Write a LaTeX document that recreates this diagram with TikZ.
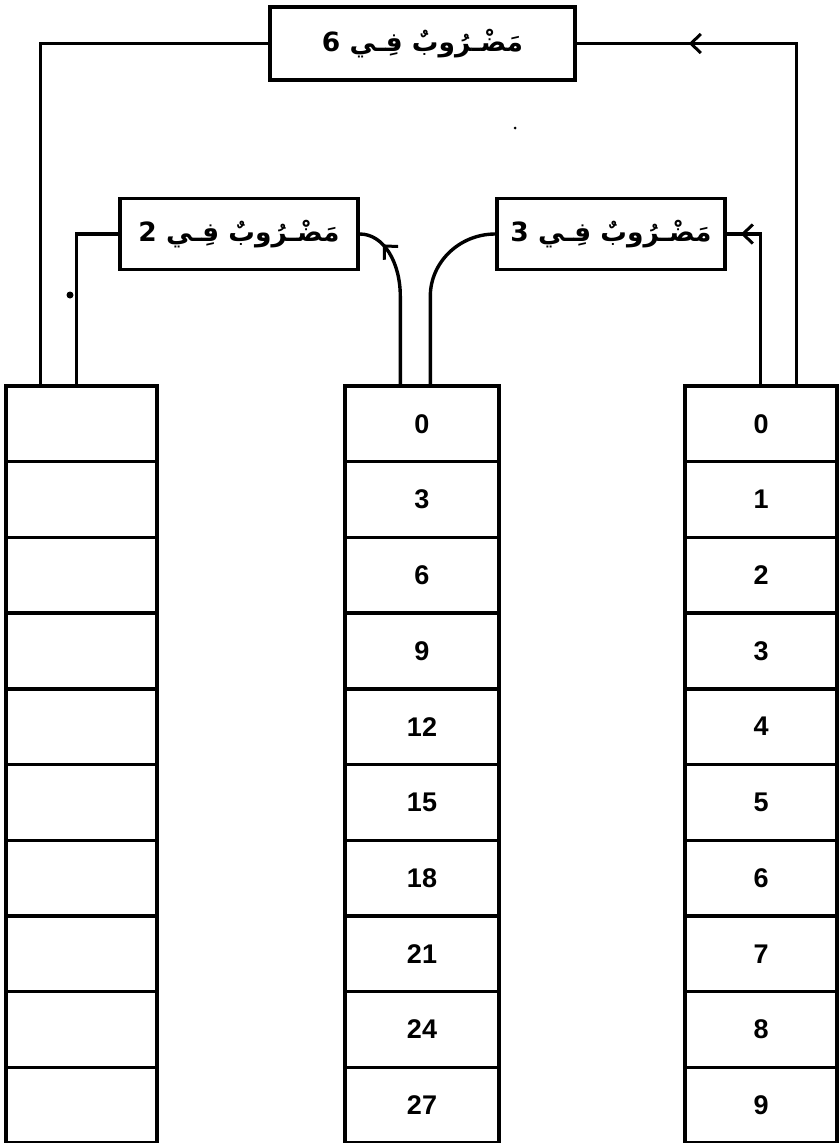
\documentclass[tikz,border=0pt]{standalone}
\usepackage{fontspec}
\setmainfont{Liberation Sans}
\newfontfamily\arabicfont[Script=Arabic]{DejaVu Sans}
\TeXXeTstate=1
\usetikzlibrary{arrows.meta,decorations.markings}
\begin{document}
\begin{tikzpicture}[x=1pt,y=-1pt,
  ln/.style={line width=3.4pt},
  cell/.style={draw,line width=3.4pt,minimum height=75.7pt,inner sep=0pt,font=\fontsize{27}{29}\selectfont\bfseries},
  opbox/.style={draw,line width=3.4pt,inner sep=0pt,font=\arabicfont\fontsize{26.5}{30}\selectfont\bfseries},
  midarrow/.style={postaction={decorate},decoration={markings,mark=at position #1 with {\arrow[line width=3pt]{Straight Barb[length=10pt,width=19pt]}}}}
]
\useasboundingbox (0,0) rectangle (839,1143);
% operation boxes
\node[opbox,minimum width=305pt,minimum height=73pt] (m6) at (422.5,43.5) {\beginR مَضْـرُوبٌ فِـي 6\endR};
\node[opbox,minimum width=238pt,minimum height=71pt] (m2) at (239,234) {\beginR مَضْـرُوبٌ فِـي 2\endR};
\node[opbox,minimum width=228pt,minimum height=71pt] (m3) at (611,234) {\beginR مَضْـرُوبٌ فِـي 3\endR};
% columns
\foreach \i/\m/\r in {0/0/0,1/3/1,2/6/2,3/9/3,4/12/4,5/15/5,6/18/6,7/21/7,8/24/8,9/27/9}{
  \node[cell,minimum width=151pt] (L\i) at (81.5,{386+75.7*(\i+0.5)}) {};
  \node[cell,minimum width=154pt] (M\i) at (422,{386+75.7*(\i+0.5)}) {\m};
  \node[cell,minimum width=152pt] (R\i) at (761,{386+75.7*(\i+0.5)}) {\r};
}
% connectors
\draw[ln] ([xshift=36pt]L0.north west) |- (m6.west);
\draw[ln] ([xshift=72pt]L0.north west) |- (m2.west);
\draw[ln,midarrow=-112pt] ([xshift=113pt]R0.north west) |- (m6.east);
\draw[ln,midarrow=-14pt] ([xshift=77pt]R0.north west) |- (m3.east);
\draw[ln,midarrow=-26pt] ([xshift=57pt]M0.north west) -- ++(0,-88) .. controls +(0,-34) and +(24,0) .. (m2.east);
\draw[ln] ([xshift=87pt]M0.north west) -- ++(0,-88) .. controls +(0,-34) and +(-36,0) .. (m3.west);
% specks
\fill (70,295) circle (3.5pt);
\fill (515,128) circle (1.5pt);
\end{tikzpicture}
\end{document}
